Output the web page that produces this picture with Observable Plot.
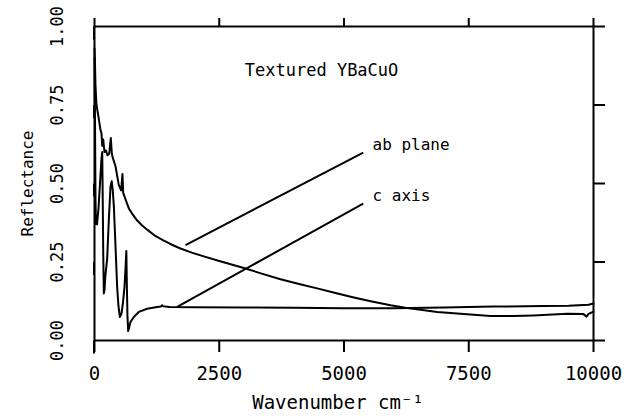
<!DOCTYPE html>
<html>
<head>
<meta charset="utf-8">
<script src="https://cdn.jsdelivr.net/npm/d3@7"></script>
<script src="https://cdn.jsdelivr.net/npm/@observablehq/plot@0.6"></script>
<style>
  html, body { margin: 0; padding: 0; background: white; }
  #chart { width: 624px; height: 417px; }
</style>
</head>
<body>
<div id="chart"></div>
<script>
// ab-plane reflectance
const abWavenumber = [0, 10, 20, 40, 87, 120, 140, 155, 175, 200, 230, 260, 295, 327, 345, 360, 421, 487, 534, 560, 575, 620, 690, 750, 855, 950, 1055, 1200, 1389, 1550, 1723, 1950, 2191, 2500, 2993, 3350, 3727, 4100, 4462, 4830, 5197, 5560, 5932, 6230, 6533, 6868, 7200, 7535, 7936, 8400, 8800, 9473, 9800, 9860, 9900, 10000];
const abReflectance = [0.93, 0.88, 0.81, 0.75, 0.705, 0.67, 0.66, 0.62, 0.64, 0.60, 0.605, 0.59, 0.595, 0.645, 0.60, 0.585, 0.555, 0.495, 0.478, 0.53, 0.47, 0.45, 0.42, 0.405, 0.382, 0.367, 0.353, 0.335, 0.318, 0.305, 0.293, 0.280, 0.268, 0.253, 0.231, 0.213, 0.195, 0.180, 0.166, 0.151, 0.137, 0.124, 0.112, 0.104, 0.098, 0.091, 0.087, 0.083, 0.078, 0.078, 0.080, 0.085, 0.084, 0.076, 0.085, 0.092];

// c-axis reflectance
const cWavenumber = [0, 10, 20, 30, 50, 80, 110, 140, 155, 165, 175, 187, 200, 220, 254, 287, 321, 345, 365, 388, 421, 454, 480, 508, 540, 570, 601, 625, 638, 648, 660, 675, 700, 721, 788, 888, 1055, 1256, 1330, 1356, 1380, 1500, 2000, 3000, 4000, 5000, 6000, 7000, 8000, 9000, 9500, 9900, 10000];
const cReflectance = [0.90, 0.70, 0.45, 0.37, 0.37, 0.42, 0.50, 0.58, 0.60, 0.45, 0.28, 0.15, 0.16, 0.21, 0.26, 0.385, 0.49, 0.507, 0.48, 0.427, 0.30, 0.17, 0.11, 0.075, 0.085, 0.12, 0.171, 0.24, 0.285, 0.18, 0.08, 0.03, 0.045, 0.059, 0.075, 0.091, 0.101, 0.107, 0.108, 0.112, 0.109, 0.107, 0.106, 0.105, 0.104, 0.103, 0.103, 0.105, 0.108, 0.110, 0.111, 0.114, 0.118];

const xTicks = [0, 2500, 5000, 7500, 10000];
const xTickLabels = ["0", "2500", "5000", "7500", "10000"];
const yTicks = [0, 0.25, 0.5, 0.75, 1];
const yTickLabels = ["0.00", "0.25", "0.50", "0.75", "1.00"];

const titleText = "Textured YBaCuO";
const titleX = 4550, titleY = 0.86;

const seriesNames = ["ab plane", "c axis"];
const seriesLabelX = [5571, 5571];
const seriesLabelY = [0.622, 0.46];
const leaderFromX = [1824, 1657];
const leaderFromY = [0.304, 0.107];
const leaderToX = [5385, 5385];
const leaderToY = [0.598, 0.436];

const xLabel = "Wavenumber cm\u207B\u00B9";
const yLabel = "Reflectance";

const ab = abWavenumber.map((w, i) => ({w, r: abReflectance[i]}));
const cax = cWavenumber.map((w, i) => ({w, r: cReflectance[i]}));
const labels = seriesNames.map((n, i) => ({n, x: seriesLabelX[i], y: seriesLabelY[i]}));
const leaders = seriesNames.map((n, i) => ({x1: leaderFromX[i], y1: leaderFromY[i], x2: leaderToX[i], y2: leaderToY[i]}));

const font = "'DejaVu Sans Mono', monospace";

const chart = Plot.plot({
  width: 624,
  height: 417,
  marginLeft: 94,
  marginRight: 31,
  marginTop: 26,
  marginBottom: 77,
  x: {domain: [0, 10000]},
  y: {domain: [0, 1]},
  style: {fontFamily: font, background: "white", color: "black"},
  marks: [
    Plot.axisX(xTicks, {anchor: "bottom", tickSize: 12, tickPadding: 14, fontSize: 19, strokeWidth: 2,
      tickFormat: d => xTickLabels[xTicks.indexOf(d)], label: null}),
    Plot.axisX(xTicks, {anchor: "top", tickSize: 9, strokeWidth: 2, tickFormat: () => "", label: null}),
    Plot.axisY(yTicks, {anchor: "left", tickSize: 13, tickPadding: 24, fontSize: 17, strokeWidth: 2,
      rotate: -90, textAnchor: "middle",
      tickFormat: d => yTickLabels[yTicks.indexOf(d)], label: null}),
    Plot.axisY(yTicks, {anchor: "right", tickSize: 11, strokeWidth: 2, tickFormat: () => "", label: null}),
    Plot.frame({stroke: "black", strokeWidth: 2}),
    Plot.line(ab, {x: "w", y: "r", stroke: "black", strokeWidth: 2, curve: "linear"}),
    Plot.line(cax, {x: "w", y: "r", stroke: "black", strokeWidth: 2, curve: "linear"}),
    Plot.link(leaders, {x1: "x1", y1: "y1", x2: "x2", y2: "y2", stroke: "black", strokeWidth: 2}),
    Plot.text(labels, {x: "x", y: "y", text: "n", textAnchor: "start", fontSize: 16, fill: "black"}),
    Plot.text([titleText], {x: titleX, y: titleY, text: d => d, fontSize: 17, fill: "black"}),
    Plot.text([yLabel], {frameAnchor: "left", dx: -67, rotate: -90, textAnchor: "middle", lineAnchor: "middle",
      text: d => d, fontSize: 16, fill: "black"}),
    Plot.text([xLabel], {frameAnchor: "bottom", dx: -6, dy: 62, textAnchor: "middle", lineAnchor: "middle",
      text: d => d, fontSize: 19, fill: "black"})
  ]
});
document.getElementById("chart").appendChild(chart);
</script>
</body>
</html>
